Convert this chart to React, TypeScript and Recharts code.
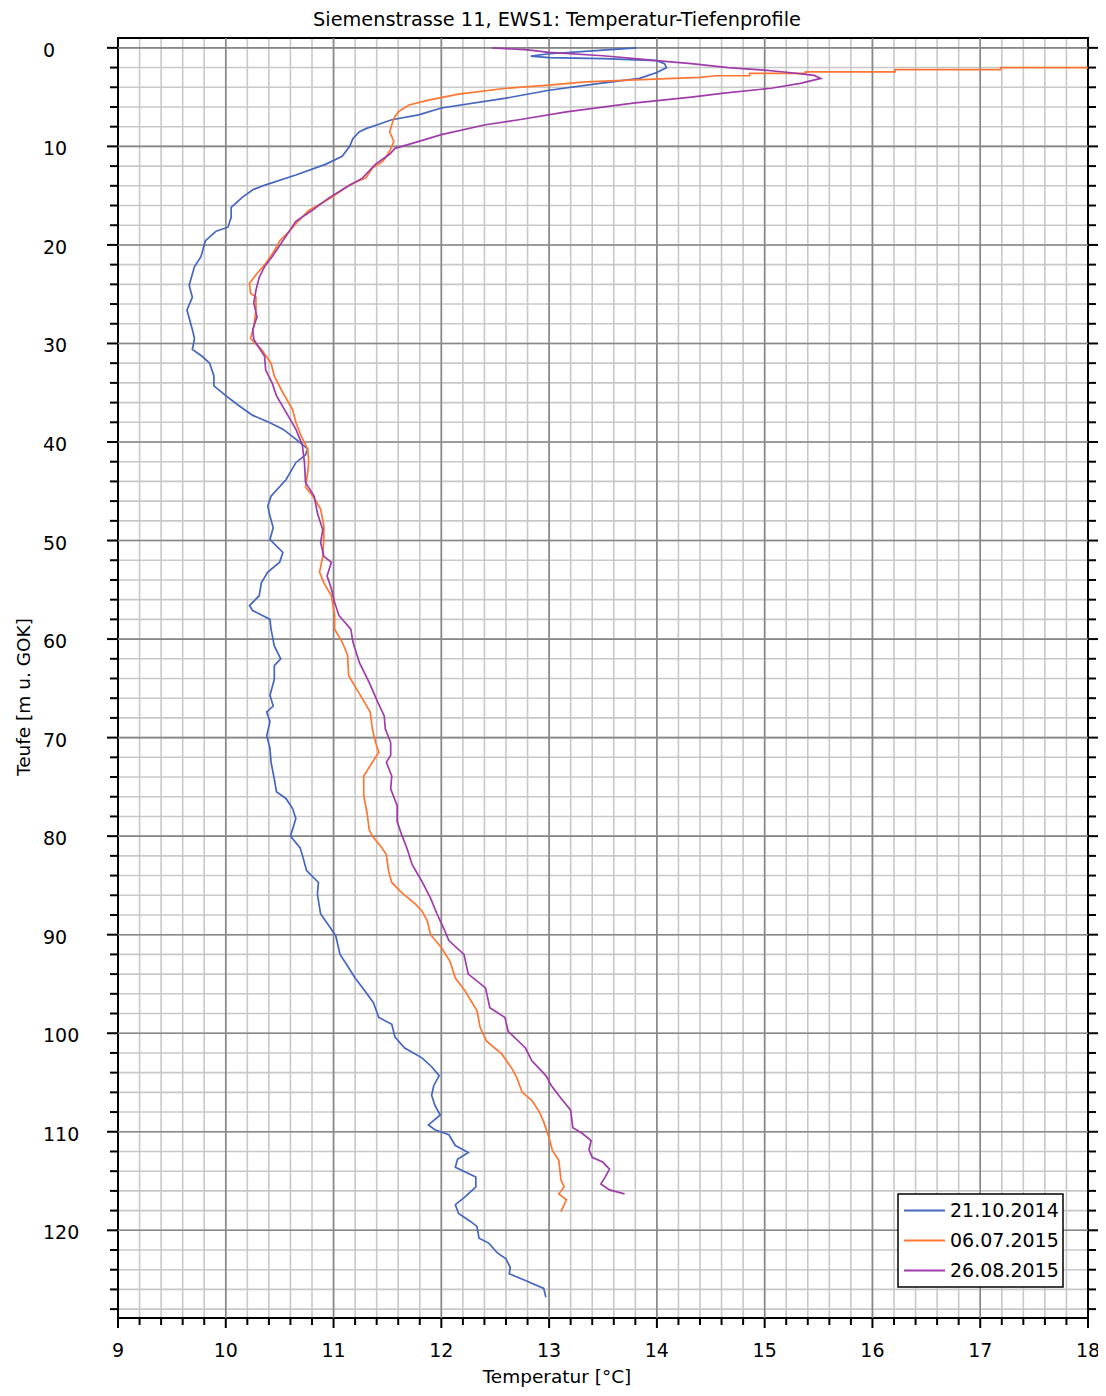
import {
  ScatterChart,
  Scatter,
  XAxis,
  YAxis,
  CartesianGrid,
  ReferenceLine,
  ReferenceArea,
} from "recharts";

// Temperatur-Tiefenprofile EWS1, Siemenstrasse 11
// each point: [Teufe m u. GOK, Temperatur °C]

const PROFILE_2014: [number, number][] = [
  [0, 13.81], [0.3, 13.4], [0.6, 13.0], [0.84, 12.83], [1.0, 13.0], [1.1, 13.5],
  [1.3, 14.0], [1.6, 14.07], [2.0, 14.09], [2.5, 14.0], [3.1, 13.84], [3.6, 13.47],
  [4.3, 13.0], [5.1, 12.6], [6.1, 12.0], [6.8, 11.79], [7.3, 11.54], [7.75, 11.42],
  [8.2, 11.3], [8.5, 11.24], [9.2, 11.18], [10, 11.15], [11, 11.08], [11.8, 10.93],
  [12.9, 10.65], [13.9, 10.37], [14.4, 10.25], [15.2, 10.15], [16.2, 10.05], [17.2, 10.05],
  [18.2, 10.02], [18.6, 9.91], [19.6, 9.81], [21.2, 9.77], [22.2, 9.71], [24.1, 9.66],
  [25.3, 9.69], [26.6, 9.64], [28.6, 9.69], [29.5, 9.71], [30.6, 9.69], [31.3, 9.78],
  [32, 9.85], [33.3, 9.89], [34.3, 9.89], [35.3, 10.0], [36.3, 10.12], [37.3, 10.25],
  [38, 10.4], [38.7, 10.53], [39.7, 10.65], [40.7, 10.76], [41.3, 10.74], [42.1, 10.65],
  [43.8, 10.56], [45.5, 10.42], [46.5, 10.39], [47.5, 10.41], [48.7, 10.44], [49.9, 10.41],
  [51.2, 10.53], [52.2, 10.5], [53.2, 10.39], [54.3, 10.33], [55.6, 10.31], [56.6, 10.22],
  [57.1, 10.25], [58, 10.41], [59, 10.42], [60.7, 10.45], [62, 10.51], [62.7, 10.45],
  [64.1, 10.45], [65.7, 10.41], [66.8, 10.44], [67.4, 10.38], [68.4, 10.41], [69.8, 10.38],
  [71.1, 10.41], [72.5, 10.42], [74.2, 10.45], [75.5, 10.47], [76.2, 10.56], [77.2, 10.62],
  [78.2, 10.65], [79.3, 10.62], [80, 10.6], [81.2, 10.69], [81.9, 10.71], [83.5, 10.75],
  [84.7, 10.86], [85.9, 10.85], [87.9, 10.88], [89.3, 10.97], [90.1, 11.02], [92, 11.06],
  [93, 11.12], [94.4, 11.2], [95.7, 11.29], [96.9, 11.37], [98.4, 11.42], [99.1, 11.54],
  [100.4, 11.57], [101.5, 11.66], [102.5, 11.82], [103.4, 11.91], [104.3, 11.98], [105.3, 11.93],
  [106.3, 11.91], [107.3, 11.94], [108.3, 11.99], [109.3, 11.88], [109.8, 11.94], [110.3, 12.07],
  [111.4, 12.13], [112.1, 12.25], [112.8, 12.15], [113.6, 12.13], [114.6, 12.32], [115.6, 12.32],
  [116.6, 12.22], [117.4, 12.13], [118.3, 12.16], [119.1, 12.27], [119.6, 12.33], [120.8, 12.35],
  [121.3, 12.44], [122.3, 12.52], [122.9, 12.6], [123.8, 12.64], [124.4, 12.63], [125.1, 12.78],
  [125.9, 12.95], [126.8, 12.97],
];

const PROFILE_2015_07: [number, number][] = [
  [2.0, 18.0], [2.0, 17.19], [2.2, 17.19], [2.2, 16.21], [2.43, 16.21], [2.43, 15.38],
  [2.6, 15.38], [2.6, 14.86], [2.83, 14.86], [2.83, 14.55], [3.0, 14.4], [3.1, 14.15],
  [3.46, 13.34], [3.8, 12.97], [4.1, 12.6], [4.7, 12.16], [5.3, 11.88], [5.8, 11.7],
  [6.5, 11.6], [7.15, 11.56], [8.5, 11.52], [9.5, 11.56], [10.5, 11.52], [11.5, 11.46],
  [12.2, 11.36], [13.2, 11.3], [13.9, 11.15], [15.2, 10.98], [16.5, 10.77], [17.6, 10.67],
  [18.6, 10.59], [19.6, 10.5], [20.6, 10.45], [21.9, 10.37], [22.9, 10.29], [23.9, 10.22],
  [24.9, 10.23], [25.3, 10.28], [26.6, 10.28], [28.3, 10.26], [29.5, 10.23], [30.6, 10.33],
  [32, 10.42], [33.3, 10.45], [35, 10.53], [36.7, 10.62], [38, 10.65], [39.4, 10.7],
  [40.7, 10.76], [42, 10.77], [43.1, 10.76], [44.6, 10.74], [45.5, 10.81], [46.8, 10.88],
  [48.5, 10.91], [49.9, 10.91], [51.6, 10.9], [53.2, 10.87], [54.3, 10.91], [55.6, 10.98],
  [57.6, 11.01], [59, 11.01], [60.3, 11.08], [61.6, 11.13], [63.7, 11.14], [65, 11.21],
  [66.1, 11.27], [67.4, 11.34], [69.1, 11.36], [70.5, 11.39], [71.5, 11.42], [72.5, 11.36],
  [73.9, 11.28], [75.9, 11.28], [77.6, 11.31], [79.3, 11.33], [80, 11.36], [81.2, 11.45],
  [81.9, 11.49], [83.5, 11.51], [84.7, 11.54], [85.7, 11.63], [86.9, 11.76], [87.6, 11.82],
  [88.6, 11.87], [90, 11.9], [91.3, 12.0], [92.7, 12.08], [94.4, 12.13], [95.7, 12.22],
  [97.7, 12.33], [99.4, 12.36], [100.8, 12.42], [102.1, 12.56], [103.5, 12.65], [104.5, 12.7],
  [106, 12.75], [106.8, 12.84], [108, 12.91], [109, 12.95], [110.6, 13.0], [111.9, 13.03],
  [112.9, 13.09], [114.9, 13.11], [115.6, 13.14], [116.3, 13.09], [116.9, 13.16], [117.4, 13.14],
  [118.1, 13.11],
];

const PROFILE_2015_08: [number, number][] = [
  [0, 12.47], [0.2, 12.8], [0.45, 13.0], [0.8, 13.5], [1.2, 13.9], [1.4, 14.1],
  [1.6, 14.32], [2.0, 14.66], [2.2, 14.93], [2.45, 15.18], [2.8, 15.46], [3.1, 15.52],
  [3.6, 15.33], [4.1, 15.06], [4.6, 14.62], [5.0, 14.32], [5.6, 13.78], [6.5, 13.16],
  [7.3, 12.72], [7.8, 12.41], [8.8, 12.0], [9.7, 11.73], [10.2, 11.57], [10.8, 11.52],
  [11.8, 11.39], [13.2, 11.27], [14.2, 11.11], [15.2, 10.96], [16.5, 10.8], [17.6, 10.65],
  [18.6, 10.59], [19.9, 10.51], [21.2, 10.43], [22.2, 10.36], [23.3, 10.31], [24.6, 10.28],
  [25.9, 10.26], [27.3, 10.29], [28.6, 10.25], [29.6, 10.26], [31.3, 10.36], [32.7, 10.37],
  [34, 10.43], [35.3, 10.47], [37, 10.56], [38.7, 10.65], [40.3, 10.71], [42.1, 10.73],
  [44.1, 10.74], [45.5, 10.82], [47.2, 10.85], [48.9, 10.9], [50.2, 10.88], [51.6, 10.91],
  [52.2, 10.98], [53.6, 10.94], [54.9, 10.98], [56.3, 11.01], [57.6, 11.05], [59, 11.16],
  [60.3, 11.18], [62.4, 11.24], [64.4, 11.33], [66.4, 11.41], [67.8, 11.47], [69.1, 11.48],
  [70.5, 11.53], [71.8, 11.53], [72.5, 11.49], [73.9, 11.54], [75.2, 11.53], [76.9, 11.59],
  [78.5, 11.59], [79.8, 11.63], [81.2, 11.68], [82.9, 11.73], [84.6, 11.82], [86.3, 11.9],
  [87.9, 11.96], [89.3, 12.02], [90.6, 12.07], [92, 12.21], [94, 12.25], [95.4, 12.41],
  [97.4, 12.45], [98.4, 12.59], [99.8, 12.62], [101.5, 12.78], [102.8, 12.84], [104.3, 12.97],
  [105.3, 13.02], [106.6, 13.11], [107.8, 13.2], [109.6, 13.22], [110.1, 13.3], [110.9, 13.39],
  [111.8, 13.37], [112.6, 13.4], [113.1, 13.5], [113.8, 13.56], [114.6, 13.52], [115.3, 13.48],
  [115.9, 13.56], [116.3, 13.7],
];

const SERIES = [
  { name: "21.10.2014", color: "#4566bf", points: PROFILE_2014 },
  { name: "06.07.2015", color: "#ff7632", points: PROFILE_2015_07 },
  { name: "26.08.2015", color: "#a03caa", points: PROFILE_2015_08 },
];

const TEMP_MAJOR = [9, 10, 11, 12, 13, 14, 15, 16, 17, 18];
const DEPTH_MAJOR = [0, 10, 20, 30, 40, 50, 60, 70, 80, 90, 100, 110, 120];
const TEMP_TICKS = Array.from({ length: 46 }, (_, i) => +(9 + i * 0.2).toFixed(1));
const DEPTH_TICKS = Array.from({ length: 65 }, (_, i) => i * 2);

const TEMP_DOMAIN: [number, number] = [9, 18];
const DEPTH_DOMAIN: [number, number] = [-1, 128.9];

const FONT = "'DejaVu Sans', sans-serif";
const W = 1098;
const H = 1380;

const TempTick = (props: any) => {
  const { x, y, payload } = props;
  const major = TEMP_MAJOR.includes(payload.value);
  return (
    <g>
      <line x1={x} x2={x} y1={y} y2={y + (major ? 10 : 7)} stroke="#000" strokeWidth={2} />
      {major && (
        <text x={x} y={y + 39} textAnchor="middle" fontSize={19} fontFamily={FONT} fill="#000">
          {payload.value}
        </text>
      )}
    </g>
  );
};

const DepthTick = (props: any) => {
  const { x, y, payload } = props;
  const major = DEPTH_MAJOR.includes(payload.value);
  return (
    <g>
      <line x1={x} x2={x - (major ? 11 : 8)} y1={y} y2={y} stroke="#000" strokeWidth={2} />
      {major && (
        <text x={x - 75} y={y + 9} textAnchor="start" fontSize={19} fontFamily={FONT} fill="#000">
          {payload.value}
        </text>
      )}
    </g>
  );
};

const RightTick = (props: any) => {
  const { x, y, payload } = props;
  const major = DEPTH_MAJOR.includes(payload.value);
  return <line x1={x} x2={x + (major ? 11 : 8)} y1={y} y2={y} stroke="#000" strokeWidth={2} />;
};

const noDot = () => <g />;

export default function App() {
  const rows = SERIES.map((s) => ({
    ...s,
    data: s.points.map(([d, t]) => ({ d, t })),
  }));

  return (
    <div style={{ position: "relative", width: W, height: H, fontFamily: FONT }}>
      <ScatterChart width={W} height={H} margin={{ top: 30, right: 8, bottom: 0, left: 0 }}>
        <CartesianGrid stroke="#c8c8c8" strokeWidth={1.6} />
        <XAxis
          type="number"
          dataKey="t"
          domain={TEMP_DOMAIN}
          ticks={TEMP_TICKS}
          interval={0}
          allowDataOverflow
          axisLine={false}
          tickLine={false}
          tickSize={0}
          tickMargin={0}
          height={70}
          tick={TempTick}
        />
        <YAxis
          type="number"
          dataKey="d"
          domain={DEPTH_DOMAIN}
          ticks={DEPTH_TICKS}
          interval={0}
          reversed
          allowDataOverflow
          axisLine={false}
          tickLine={false}
          tickSize={0}
          tickMargin={0}
          width={110}
          tick={DepthTick}
        />
        <YAxis
          yAxisId="r"
          orientation="right"
          type="number"
          domain={DEPTH_DOMAIN}
          ticks={DEPTH_TICKS}
          interval={0}
          reversed
          allowDataOverflow
          axisLine={false}
          tickLine={false}
          tickSize={0}
          tickMargin={0}
          width={10}
          tick={RightTick}
        />
        {TEMP_MAJOR.slice(1, -1).map((v) => (
          <ReferenceLine key={"vx" + v} x={v} stroke="#888888" strokeWidth={1.6} />
        ))}
        {DEPTH_MAJOR.map((v) => (
          <ReferenceLine key={"hy" + v} y={v} stroke="#888888" strokeWidth={1.6} />
        ))}
        {rows.map((s) => (
          <Scatter
            key={s.name}
            name={s.name}
            data={s.data}
            fill={s.color}
            line={{ stroke: s.color, strokeWidth: 1.7 }}
            lineType="joint"
            shape={noDot}
            isAnimationActive={false}
          />
        ))}
        <ReferenceArea
          x1={TEMP_DOMAIN[0]}
          x2={TEMP_DOMAIN[1]}
          y1={DEPTH_DOMAIN[0]}
          y2={DEPTH_DOMAIN[1]}
          fill="none"
          stroke="#000"
          strokeWidth={2}
        />
      </ScatterChart>
      <svg
        width={W}
        height={H}
        style={{ position: "absolute", left: 0, top: 0, overflow: "visible", pointerEvents: "none" }}
      >
        <text x={549} y={18} textAnchor="middle" fontSize={19.3} fontFamily={FONT} fill="#000">
          Siemenstrasse 11, EWS1: Temperatur-Tiefenprofile
        </text>
        <text x={549} y={1375} textAnchor="middle" fontSize={18.5} fontFamily={FONT} fill="#000">
          Temperatur [°C]
        </text>
        <text
          x={22}
          y={689}
          textAnchor="middle"
          fontSize={18.5}
          fontFamily={FONT}
          fill="#000"
          transform="rotate(-90 22 689)"
        >
          Teufe [m u. GOK]
        </text>
        <rect x={890} y={1186} width={165} height={93} fill="#fff" stroke="#000" strokeWidth={1.5} />
        {SERIES.map((s, i) => (
          <g key={s.name}>
            <line x1={896} x2={937} y1={1202.5 + i * 30} y2={1202.5 + i * 30} stroke={s.color} strokeWidth={2} />
            <text x={942} y={1209 + i * 30} fontSize={19} fontFamily={FONT} fill="#000">
              {s.name}
            </text>
          </g>
        ))}
      </svg>
    </div>
  );
}
